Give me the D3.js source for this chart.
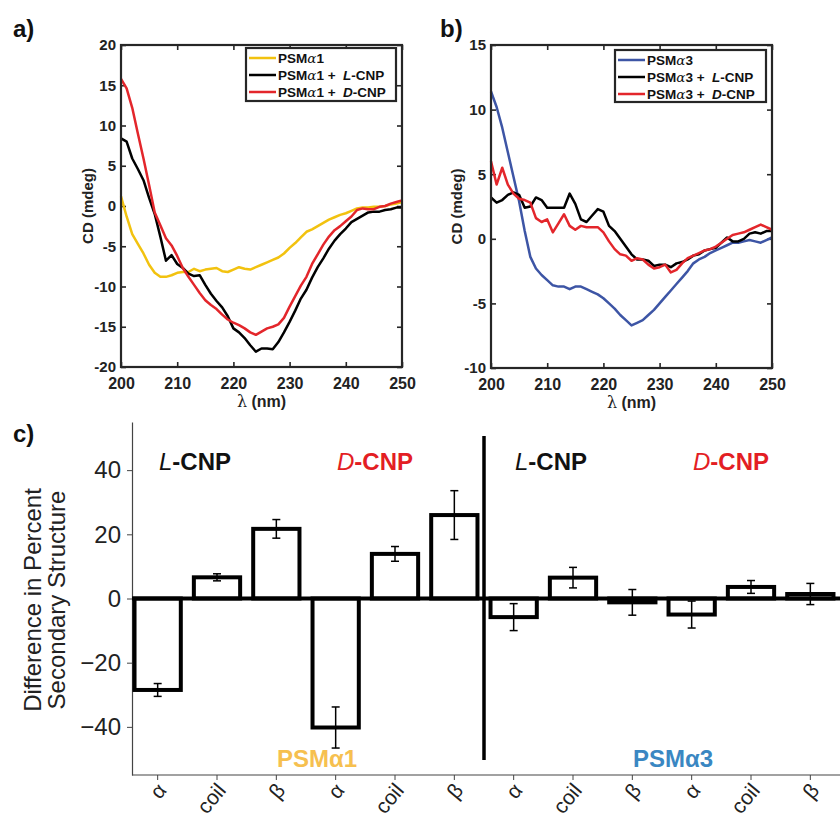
<!DOCTYPE html>
<html><head><meta charset="utf-8">
<script src="https://cdn.jsdelivr.net/npm/d3@7"></script>
<style>body{margin:0;background:#fff} svg{display:block;font-family:"Liberation Sans",Arial,sans-serif}</style>
</head><body><svg id="c" width="840" height="823"></svg>
<script>
// ---------- data ----------
const wavelength = [200,201,202,203,204,205,206,207,208,209,210,211,212,213,214,215,216,217,218,219,220,221,222,223,224,225,226,227,228,229,230,231,232,233,234,235,236,237,238,239,240,241,242,243,244,245,246,247,248,249,250];
const psma1 = [1.2,-1.3,-3.5,-4.7,-5.9,-7.3,-8.3,-8.8,-8.8,-8.6,-8.3,-8.2,-8.2,-7.8,-8.1,-7.9,-7.8,-7.7,-8.1,-8.2,-7.9,-7.6,-7.8,-7.9,-7.6,-7.3,-7.0,-6.7,-6.4,-5.9,-5.2,-4.6,-3.9,-3.2,-2.9,-2.5,-2.1,-1.7,-1.4,-1.1,-0.9,-0.6,-0.3,-0.2,-0.2,-0.1,-0.1,0.0,0.2,0.3,0.5];
const psma1L = [8.4,8.0,5.9,4.6,3.2,1.0,-1.0,-3.8,-6.8,-6.1,-7.2,-7.7,-8.4,-8.7,-8.6,-9.8,-10.9,-11.8,-12.6,-13.7,-15.2,-15.7,-16.4,-17.3,-18.1,-17.7,-17.7,-17.8,-16.9,-15.7,-14.4,-13.0,-11.5,-10.4,-8.9,-7.6,-6.5,-5.3,-4.3,-3.5,-2.8,-2.0,-1.6,-1.2,-0.8,-0.7,-0.7,-0.5,-0.4,-0.2,-0.2];
const psma1D = [15.8,14.6,12.2,9.0,5.9,2.6,-0.8,-2.4,-4.0,-4.9,-6.2,-7.7,-8.8,-9.8,-10.8,-11.7,-12.3,-12.8,-13.5,-14.1,-14.5,-14.8,-15.2,-15.7,-16.0,-15.6,-15.2,-15.0,-14.7,-13.9,-12.5,-11.2,-9.9,-8.8,-7.2,-6.0,-4.8,-3.8,-3.0,-2.5,-1.9,-1.3,-0.5,-0.3,-0.4,-0.4,-0.1,0.0,0.3,0.5,0.7];
const psma3 = [11.4,10.2,8.6,6.7,4.8,2.9,0.6,-1.4,-2.3,-2.8,-3.2,-3.6,-3.7,-3.7,-3.9,-3.7,-3.7,-3.9,-4.1,-4.3,-4.6,-5.0,-5.4,-5.9,-6.3,-6.7,-6.5,-6.3,-5.9,-5.5,-5.0,-4.5,-4.0,-3.5,-3.0,-2.5,-1.9,-1.6,-1.4,-1.1,-0.9,-0.7,-0.5,-0.3,-0.3,-0.2,-0.1,-0.2,-0.3,-0.1,0.1];
const psma3L = [3.2,2.8,3.0,3.4,3.6,3.4,2.4,2.5,3.2,3.0,2.4,2.4,2.4,2.4,3.5,2.7,1.5,1.3,1.8,2.3,2.1,1.0,0.6,0.0,-0.6,-1.2,-1.6,-1.6,-1.7,-2.1,-2.0,-2.0,-2.2,-1.9,-1.8,-1.6,-1.3,-1.2,-0.9,-0.8,-0.7,-0.3,0.1,-0.2,-0.2,0.0,0.4,0.5,0.4,0.6,0.6];
const psma3D = [6.0,4.2,5.5,4.2,3.5,3.1,3.0,2.8,1.6,1.3,1.5,0.5,1.2,1.9,1.0,0.7,1.0,0.9,0.9,0.9,0.5,-0.2,-0.8,-1.2,-1.3,-1.7,-1.5,-1.6,-2.0,-2.3,-2.2,-2.0,-2.6,-2.4,-1.9,-1.5,-1.3,-1.1,-0.9,-0.8,-0.6,-0.3,0.0,0.3,0.4,0.5,0.7,0.9,1.1,0.9,0.7];
const xTicksCD = [200,210,220,230,240,250];
const yTicksA = [-20,-15,-10,-5,0,5,10,15,20];
const yTicksB = [-10,-5,0,5,10,15];
const barLabels = ["α","coil","β","α","coil","β","α","coil","β","α","coil","β"];
const barValues = [-28.5, 6.6, 21.7, -40.2, 13.9, 26.0, -5.8, 6.5, -1.2, -5.0, 3.6, 1.4];
const barErrors = [2.0, 1.1, 2.9, 6.4, 2.3, 7.6, 4.2, 3.2, 4.0, 4.2, 2.0, 3.3];
const yTicksC = [-40,-20,0,20,40];

const svg = d3.select("#c");
const frameCol = "#262626";
const lineW = 2.5;

function zip(ys){ return wavelength.map((w,i)=>[w, ys[i]]); }

function cdPanel(cfg){
  const g = svg.append("g");
  const x = d3.scaleLinear().domain([200,250]).range(cfg.xr);
  const y = d3.scaleLinear().domain(cfg.yd).range(cfg.yr);
  const fmt = d => String(d); // hyphen minus like MATLAB
  const ax = g.append("g").attr("transform",`translate(0,${cfg.yr[0]})`)
    .call(d3.axisBottom(x).tickValues(xTicksCD).tickSize(-5).tickSizeOuter(0).tickPadding(11).tickFormat(fmt));
  const ay = g.append("g").attr("transform",`translate(${cfg.xr[0]},0)`)
    .call(d3.axisLeft(y).tickValues(cfg.yt).tickSize(-5).tickSizeOuter(0).tickPadding(5).tickFormat(fmt));
  const at = g.append("g").attr("transform",`translate(0,${cfg.yr[1]})`)
    .call(d3.axisTop(x).tickValues(xTicksCD).tickSize(-5).tickSizeOuter(0).tickFormat(""));
  const ar = g.append("g").attr("transform",`translate(${cfg.xr[1]},0)`)
    .call(d3.axisRight(y).tickValues(cfg.yt).tickSize(-5).tickSizeOuter(0).tickFormat(""));
  [ax,ay,at,ar].forEach(a=>{
    a.select(".domain").remove();
    a.selectAll(".tick line").attr("stroke",frameCol).attr("stroke-width",1.6);
    a.selectAll(".tick text").attr("fill","#222").attr("font-size",15).attr("font-weight","bold");
  });
  ax.selectAll(".tick text").attr("font-size",16);
  const line = d3.line().x(d=>x(d[0])).y(d=>y(d[1]));
  cfg.series.forEach(s=>{
    g.append("path").datum(zip(s.data)).attr("d",line)
      .attr("fill","none").attr("stroke",s.color).attr("stroke-width",lineW).attr("stroke-linejoin","round");
  });
  g.append("rect").attr("x",cfg.xr[0]).attr("y",cfg.yr[1])
    .attr("width",cfg.xr[1]-cfg.xr[0]).attr("height",cfg.yr[0]-cfg.yr[1])
    .attr("fill","none").attr("stroke",frameCol).attr("stroke-width",2.2);
  const xl = g.append("text").attr("x",(cfg.xr[0]+cfg.xr[1])/2).attr("y",cfg.yr[0]+40)
    .attr("text-anchor","middle").attr("font-size",16).attr("font-weight","bold").attr("fill","#222");
  xl.append("tspan").attr("font-family","'DejaVu Serif',serif").attr("font-weight","normal").text("λ");
  xl.append("tspan").text(" (nm)");
  g.append("text").attr("transform",`translate(${cfg.ylx},${(cfg.yr[0]+cfg.yr[1])/2}) rotate(-90)`)
    .attr("text-anchor","middle").attr("font-size",15).attr("font-weight","bold").attr("fill","#222")
    .text("CD (mdeg)");
  const L = cfg.legend;
  g.append("rect").attr("x",L.x).attr("y",L.y).attr("width",L.w).attr("height",L.h)
    .attr("fill","#fff").attr("stroke",frameCol).attr("stroke-width",2.2);
  cfg.series.forEach((s,i)=>{
    const yy = L.y + 10 + i*17;
    g.append("line").attr("x1",L.x+3).attr("x2",L.x+30).attr("y1",yy).attr("y2",yy)
      .attr("stroke",s.color).attr("stroke-width",lineW);
    const t = g.append("text").attr("x",L.x+32).attr("y",yy).attr("dy","0.36em")
      .attr("font-size",13.5).attr("font-weight","bold").attr("fill","#111");
    t.append("tspan").text("PSM");
    t.append("tspan").attr("font-style","italic").attr("font-family","'DejaVu Serif',serif").attr("font-weight","normal").text("α");
    t.append("tspan").text(s.pep);
    if (s.np){
      t.append("tspan").attr("xml:space","preserve").text(" +  ");
      t.append("tspan").attr("font-style","italic").text(s.np);
      t.append("tspan").text("-CNP");
    }
  });
}

cdPanel({xr:[121,402], yr:[367,45], yd:[-20,20], yt:yTicksA, ylx:93,
  legend:{x:246,y:48,w:150,h:53},
  series:[{data:psma1,color:"#f2c20f",pep:"1"},{data:psma1L,color:"#000",pep:"1",np:"L"},{data:psma1D,color:"#e3262b",pep:"1",np:"D"}]});
cdPanel({xr:[491,772], yr:[368,45], yd:[-10,15], yt:yTicksB, ylx:462,
  legend:{x:615,y:50,w:151,h:52},
  series:[{data:psma3,color:"#3d55a5",pep:"3"},{data:psma3L,color:"#000",pep:"3",np:"L"},{data:psma3D,color:"#e3262b",pep:"3",np:"D"}]});

[["a)",13,37],["b)",440,37],["c)",13,442]].forEach(([t,x,y])=>{
  svg.append("text").attr("x",x).attr("y",y).attr("font-size",24).attr("font-weight","bold").attr("fill","#111").text(t);
});

// ---------- panel c ----------
const gc = svg.append("g");
const idx = barLabels.map((d,i)=>i);
const xc = d3.scaleBand().domain(idx).range([128,840]).paddingInner(0.22).paddingOuter(0.11);
const yc = d3.scaleLinear().domain([-55,55]).range([775,422]);

const axY = gc.append("g").attr("transform","translate(132,0)")
  .call(d3.axisLeft(yc).tickValues(yTicksC).tickSize(5).tickSizeOuter(0).tickPadding(6));
axY.select(".domain").attr("stroke","#444").attr("stroke-width",1.2);
axY.selectAll(".tick line").attr("stroke","#444");
axY.selectAll(".tick text").attr("font-size",24).attr("fill","#222");

const axX = gc.append("g").attr("transform","translate(0,775)")
  .call(d3.axisBottom(xc).tickFormat(i=>barLabels[i]).tickSize(5).tickSizeOuter(0));
axX.select(".domain").remove();
axX.selectAll(".tick line").attr("stroke","#444");
axX.selectAll(".tick text").attr("font-size",21).attr("fill","#222")
  .attr("text-anchor","end").attr("dy",0).attr("y",0)
  .attr("transform","translate(10,16) rotate(-50)");
gc.append("line").attr("x1",132).attr("x2",840).attr("y1",yc.range()[0]).attr("y2",yc.range()[0])
  .attr("stroke","#444").attr("stroke-width",1.2);

gc.selectAll("rect.bar").data(idx).join("rect").attr("class","bar")
  .attr("x",i=>xc(i)).attr("width",xc.bandwidth())
  .attr("y",i=>yc(Math.max(0,barValues[i])))
  .attr("height",i=>Math.abs(yc(barValues[i])-yc(0)))
  .attr("fill","#fff").attr("stroke","#000").attr("stroke-width",4);
gc.append("line").attr("x1",132).attr("x2",840).attr("y1",yc(0)).attr("y2",yc(0))
  .attr("stroke","#000").attr("stroke-width",4);
idx.forEach(i=>{
  const cx = xc(i)+xc.bandwidth()/2, lo = yc(barValues[i]-barErrors[i]), hi = yc(barValues[i]+barErrors[i]);
  gc.append("line").attr("x1",cx).attr("x2",cx).attr("y1",lo).attr("y2",hi).attr("stroke","#000").attr("stroke-width",1.5);
  [lo,hi].forEach(v=>gc.append("line").attr("x1",cx-4).attr("x2",cx+4).attr("y1",v).attr("y2",v).attr("stroke","#000").attr("stroke-width",1.5));
});
const divX = (xc(5)+xc.bandwidth()+xc(6))/2;
gc.append("line").attr("x1",divX).attr("x2",divX).attr("y1",436).attr("y2",760)
  .attr("stroke","#000").attr("stroke-width",3.5);

[["Difference in Percent",41],["Secondary Structure",65]].forEach(([t,x])=>{
  gc.append("text").attr("transform",`translate(${x},600) rotate(-90)`).attr("text-anchor","middle")
    .attr("font-size",24).attr("fill","#222").text(t);
});
function npLabel(x, letter, color){
  const t = gc.append("text").attr("x",x).attr("y",470).attr("font-size",24).attr("fill",color);
  t.append("tspan").attr("font-style","italic").text(letter);
  t.append("tspan").attr("font-weight","bold").text("-CNP");
}
npLabel(159,"L","#111"); npLabel(337,"D","#e31e24");
npLabel(515,"L","#111"); npLabel(693,"D","#e31e24");
gc.append("text").attr("x",277).attr("y",767).attr("font-size",24).attr("font-weight","bold").attr("fill","#f6c04f").text("PSMα1");
gc.append("text").attr("x",633).attr("y",767).attr("font-size",24).attr("font-weight","bold").attr("fill","#3a87c2").text("PSMα3");
</script></body></html>
